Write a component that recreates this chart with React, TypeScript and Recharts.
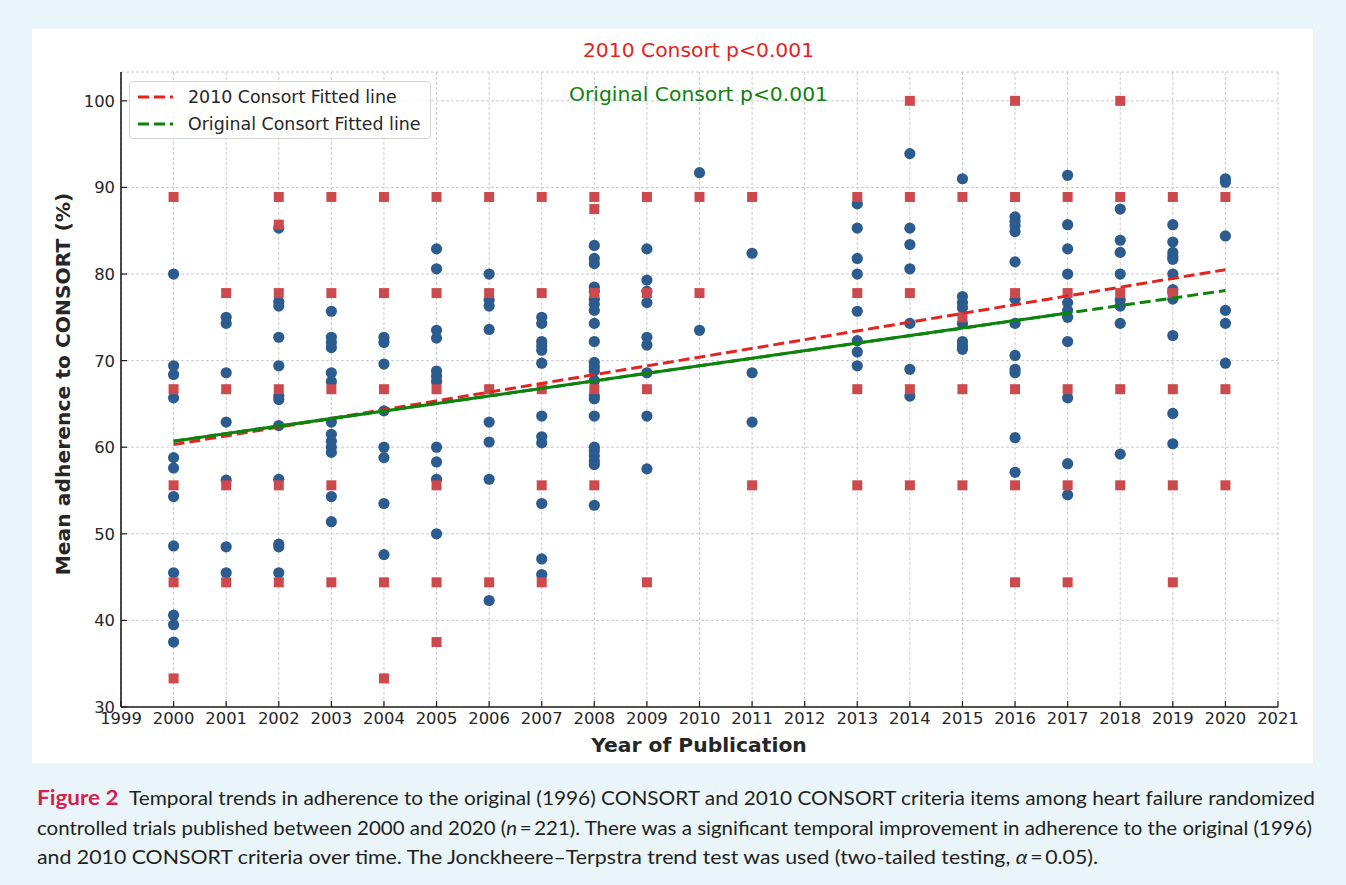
import React, { useLayoutEffect, useRef, useState } from 'react';
import { ScatterChart, Scatter, XAxis, YAxis, CartesianGrid } from 'recharts';

// ---------- data ----------
const years = [2000, 2001, 2002, 2003, 2004, 2005, 2006, 2007, 2008, 2009, 2010, 2011, 2012, 2013, 2014, 2015, 2016, 2017, 2018, 2019, 2020];

// Original (1996) CONSORT adherence (%), per year (blue circles)
const originalValues: number[][] = [
  [80.0, 69.4, 68.4, 65.7, 58.8, 57.6, 54.3, 48.6, 45.5, 40.6, 39.5, 37.5],
  [75.0, 74.3, 68.6, 62.9, 56.2, 48.5, 45.5],
  [85.3, 76.8, 76.3, 72.7, 69.4, 65.9, 65.5, 62.5, 56.3, 48.8, 48.5, 45.5],
  [75.7, 72.7, 72.1, 71.5, 68.6, 67.6, 62.9, 61.5, 60.7, 60.0, 59.4, 54.3, 51.4],
  [72.7, 72.1, 69.6, 64.2, 60.0, 58.8, 53.5, 47.6],
  [82.9, 80.6, 73.5, 72.6, 68.8, 68.2, 67.6, 60.0, 58.3, 56.3, 50.0],
  [80.0, 77.0, 76.3, 73.6, 62.9, 60.6, 56.3, 42.3],
  [75.0, 74.3, 72.2, 71.7, 71.2, 69.7, 63.6, 61.2, 60.5, 53.5, 47.1, 45.3],
  [83.3, 81.8, 81.2, 78.5, 78.0, 77.1, 76.5, 75.8, 74.3, 72.2, 69.8, 69.3, 68.8, 67.7, 65.9, 65.6, 63.6, 60.0, 59.6, 59.0, 58.4, 58.0, 53.3],
  [82.9, 79.3, 78.0, 76.7, 72.7, 71.8, 68.6, 63.6, 57.5],
  [91.7, 73.5],
  [82.4, 68.6, 62.9],
  [],
  [88.1, 85.3, 81.8, 80.0, 75.7, 72.3, 71.0, 69.4],
  [93.9, 85.3, 83.4, 80.6, 74.3, 69.0, 65.9],
  [91.0, 77.4, 76.7, 76.1, 74.3, 72.2, 71.7, 71.3],
  [86.6, 86.1, 85.6, 84.9, 81.4, 77.1, 74.3, 70.6, 69.0, 68.6, 61.1, 57.1],
  [91.4, 85.7, 82.9, 80.0, 76.7, 75.8, 75.0, 72.2, 65.7, 58.1, 54.5],
  [87.5, 83.9, 82.5, 80.0, 77.0, 76.3, 74.3, 59.2],
  [85.7, 83.7, 82.5, 82.0, 81.7, 80.0, 78.2, 77.8, 77.1, 72.9, 63.9, 60.4],
  [91.0, 90.6, 84.4, 75.8, 74.3, 69.7],
];

// 2010 CONSORT adherence (%), per year (red squares)
const consort2010Values: number[][] = [
  [88.9, 66.7, 55.6, 44.4, 33.3],
  [77.8, 66.7, 55.6, 44.4],
  [88.9, 85.7, 77.8, 66.7, 55.6, 44.4],
  [88.9, 77.8, 66.7, 55.6, 44.4],
  [88.9, 77.8, 66.7, 44.4, 33.3],
  [88.9, 77.8, 66.7, 55.6, 44.4, 37.5],
  [88.9, 77.8, 66.7, 44.4],
  [88.9, 77.8, 66.7, 55.6, 44.4],
  [88.9, 87.5, 77.8, 66.7, 55.6],
  [88.9, 77.8, 66.7, 44.4],
  [88.9, 77.8],
  [88.9, 55.6],
  [],
  [88.9, 77.8, 66.7, 55.6],
  [100, 88.9, 77.8, 66.7, 55.6],
  [88.9, 75.0, 66.7, 55.6],
  [100, 88.9, 77.8, 66.7, 55.6, 44.4],
  [88.9, 77.8, 66.7, 55.6, 44.4],
  [100, 88.9, 77.8, 66.7, 55.6],
  [88.9, 77.8, 66.7, 55.6, 44.4],
  [88.9, 66.7, 55.6],
];

// fitted lines
const fitYears = [2000, 2020];
const fit2010 = [60.3, 80.5];
const fitOriginal = [60.7, 78.1];
const fitOriginalSolidYears = [2000, 2017];
const fitOriginalSolid = [60.7, 75.5];

const xTicks = [1999, 2000, 2001, 2002, 2003, 2004, 2005, 2006, 2007, 2008, 2009, 2010, 2011, 2012, 2013, 2014, 2015, 2016, 2017, 2018, 2019, 2020, 2021];
const yTicks = [30, 40, 50, 60, 70, 80, 90, 100];

const titleText2010 = '2010 Consort p<0.001';
const titleTextOriginal = 'Original Consort p<0.001';
const legendLabels = ['2010 Consort Fitted line', 'Original Consort Fitted line'];
const xLabel = 'Year of Publication';
const yLabel = 'Mean adherence to CONSORT (%)';

// ---------- derived ----------
const flatten = (vals: number[][]) =>
  vals.flatMap((arr, i) => arr.map((v) => ({ x: years[i], y: v })));
const bluePoints = flatten(originalValues);
const redPoints = flatten(consort2010Values);
const toLine = (xs: number[], ys: number[]) => xs.map((x, i) => ({ x, y: ys[i] }));
const redFitPts = toLine(fitYears, fit2010);
const greenFitPts = toLine(fitYears, fitOriginal);
const greenSolidPts = toLine(fitOriginalSolidYears, fitOriginalSolid);

// ---------- style ----------
const FONT = '"DejaVu Sans", sans-serif';
const BLUE = '#2b5b8f';
const SQUARE = '#cc4a4e';
const RED = '#e4231f';
const GREEN = '#0d820d';
const TEXT = '#262626';
const AXIS = '#1e1e1e';

const XTick = (props: any) => {
  const { x, y, payload } = props;
  const axisY = y - 5;
  return (
    <g>
      <line x1={x} x2={x} y1={axisY} y2={axisY - 6} stroke={AXIS} strokeWidth={1.2} />
      <text x={x} y={y} dy="0.73em" textAnchor="middle" fontSize={16.4} fill={TEXT} fontFamily={FONT}>
        {payload.value}
      </text>
    </g>
  );
};

const YTick = (props: any) => {
  const { x, y, payload } = props;
  const axisX = x + 6;
  return (
    <g>
      <line x1={axisX} x2={axisX + 6} y1={y} y2={y} stroke={AXIS} strokeWidth={1.2} />
      <text x={x} y={y} dy="0.36em" textAnchor="end" fontSize={16.4} fill={TEXT} fontFamily={FONT}>
        {payload.value}
      </text>
    </g>
  );
};

const Circle = (p: any) => <circle cx={p.cx} cy={p.cy} r={5.6} fill={BLUE} />;
const Square = (p: any) => <rect x={p.cx - 5} y={p.cy - 5} width={10} height={10} fill={SQUARE} />;
const NoShape = () => <g />;

// stretches one caption line horizontally to a target width
function FitLine({ target, children }: { target: number; children: React.ReactNode }) {
  const ref = useRef<HTMLSpanElement>(null);
  const [scale, setScale] = useState(1);
  useLayoutEffect(() => {
    if (ref.current) {
      const w = ref.current.getBoundingClientRect().width;
      if (w > 0) setScale(target / w);
    }
  }, [target]);
  return (
    <div style={{ height: 29.5, whiteSpace: 'nowrap' }}>
      <span
        ref={ref}
        style={{ display: 'inline-block', transform: `scaleX(${scale})`, transformOrigin: 'left center' }}
      >
        {children}
      </span>
    </div>
  );
}

export default function App() {
  return (
    <div style={{ position: 'absolute', left: 0, top: 0, width: 1346, height: 885, background: '#e9f5f8', overflow: 'hidden' }}>
      <div style={{ position: 'absolute', left: 32, top: 29, width: 1281, height: 734, background: '#ffffff' }} />
      <div style={{ position: 'absolute', left: 0, top: 0 }}>
        <ScatterChart width={1346} height={770} margin={{ top: 72, right: 68, left: 61, bottom: 23 }}>
          <CartesianGrid stroke="#c6c6c6" strokeDasharray="3 2" strokeWidth={0.9} />
          <XAxis
            type="number"
            dataKey="x"
            domain={[1999, 2021]}
            ticks={xTicks}
            interval={0}
            allowDataOverflow
            height={40}
            tickSize={0}
            tickMargin={5}
            tick={<XTick />}
            axisLine={{ stroke: AXIS, strokeWidth: 1.6 }}
            tickLine={false}
          />
          <YAxis
            type="number"
            dataKey="y"
            domain={[30, 103.33]}
            ticks={yTicks}
            interval={0}
            allowDataOverflow
            width={60}
            tickSize={0}
            tickMargin={6}
            tick={<YTick />}
            axisLine={{ stroke: AXIS, strokeWidth: 1.6 }}
            tickLine={false}
          />
          <Scatter data={bluePoints} shape={Circle} isAnimationActive={false} />
          <Scatter data={redPoints} shape={Square} isAnimationActive={false} />
          <Scatter
            data={redFitPts}
            shape={NoShape}
            line={{ stroke: RED, strokeWidth: 3, strokeDasharray: '11 5' }}
            isAnimationActive={false}
          />
          <Scatter
            data={greenFitPts}
            shape={NoShape}
            line={{ stroke: GREEN, strokeWidth: 3, strokeDasharray: '11 5' }}
            isAnimationActive={false}
          />
          <Scatter
            data={greenSolidPts}
            shape={NoShape}
            line={{ stroke: GREEN, strokeWidth: 3 }}
            isAnimationActive={false}
          />
        </ScatterChart>
      </div>

      {/* legend */}
      <div
        style={{
          position: 'absolute', left: 129, top: 81, width: 300, height: 56,
          border: '1px solid #d4d4d4', borderRadius: 4, background: 'rgba(255,255,255,0.8)',
          fontFamily: FONT, fontSize: 17.4, color: TEXT,
        }}
      >
        {legendLabels.map((label, i) => (
          <div key={label} style={{ position: 'absolute', left: 0, top: i === 0 ? 4 : 31, height: 22, display: 'flex', alignItems: 'center', whiteSpace: 'nowrap' }}>
            <svg width={58} height={22} style={{ display: 'block' }}>
              <line x1={8} x2={43} y1={11} y2={11} stroke={i === 0 ? RED : GREEN} strokeWidth={3} strokeDasharray="11 5" />
            </svg>
            <span>{label}</span>
          </div>
        ))}
      </div>

      {/* texts */}
      <svg width={1346} height={885} style={{ position: 'absolute', left: 0, top: 0, pointerEvents: 'none' }}>
        <text x={698.5} y={50} textAnchor="middle" dominantBaseline="central" fontFamily={FONT} fontSize={20.3} fill={RED}>{titleText2010}</text>
        <text x={698.5} y={94} textAnchor="middle" dominantBaseline="central" fontFamily={FONT} fontSize={20.3} fill={GREEN}>{titleTextOriginal}</text>
        <text x={699} y={745} textAnchor="middle" dominantBaseline="central" fontFamily={FONT} fontSize={20.3} fontWeight="bold" fill={TEXT}>{xLabel}</text>
        <text x={63} y={384} textAnchor="middle" dominantBaseline="central" fontFamily={FONT} fontSize={20.3} fontWeight="bold" fill={TEXT} transform="rotate(-90 63 384)">{yLabel}</text>
      </svg>

      {/* caption */}
      <div style={{ position: 'absolute', left: 37, top: 783, fontFamily: 'Lato, sans-serif', fontSize: 19, color: '#231f20', lineHeight: '29.5px' }}>
        <FitLine target={1278}>
          <span style={{ color: '#d41f4f', fontWeight: 'bold', fontSize: 20.5 }}>Figure 2</span>{'\u2002'}Temporal trends in adherence to the original (1996) CONSORT and 2010 CONSORT criteria items among heart failure randomized
        </FitLine>
        <FitLine target={1275}>
          controlled trials published between 2000 and 2020 (<i>n</i>&#8201;=&#8201;221). There was a significant temporal improvement in adherence to the original (1996)
        </FitLine>
        <FitLine target={1061}>
          and 2010 CONSORT criteria over time. The Jonckheere–Terpstra trend test was used (two-tailed testing, <i>α</i>&#8201;=&#8201;0.05).
        </FitLine>
      </div>
    </div>
  );
}
